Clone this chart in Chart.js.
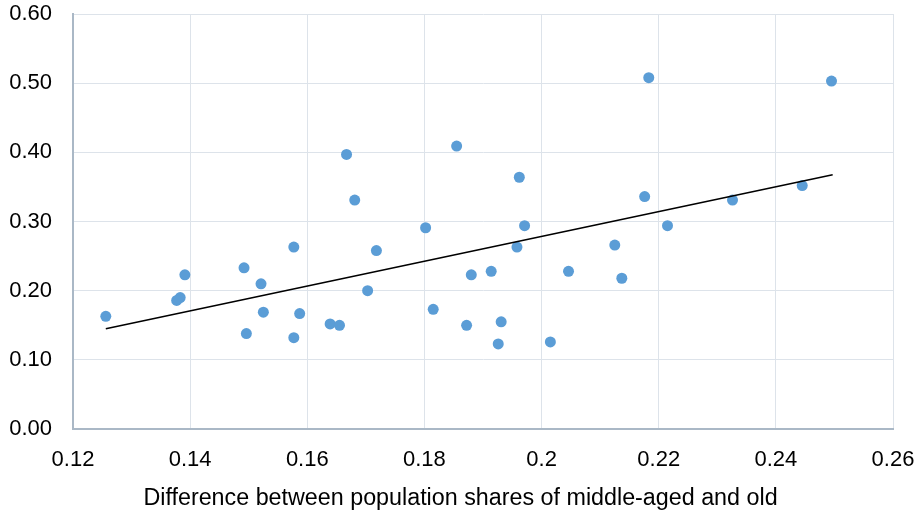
<!DOCTYPE html>
<html>
<head>
<meta charset="utf-8">
<title>Scatter</title>
<script src="https://cdn.jsdelivr.net/npm/chart.js@4.4.1/dist/chart.umd.min.js"></script>
<style>
  body { margin: 0; background: #fff; }
  #wrap { width: 921px; height: 515px; }
</style>
</head>
<body>
<div id="wrap"><canvas id="myChart" width="921" height="515"></canvas></div>
<script>
// Données
const xValues = [0.1256, 0.1391, 0.1383, 0.1377, 0.1492, 0.1521, 0.1577, 0.1525, 0.1587, 0.1496,
                 0.1577, 0.1667, 0.1681, 0.1718, 0.1703, 0.1639, 0.1655, 0.1802, 0.1815, 0.1855,
                 0.1880, 0.1914, 0.1872, 0.1931, 0.1926, 0.1962, 0.1971, 0.1958, 0.2015, 0.2046,
                 0.2125, 0.2137, 0.2176, 0.2183, 0.2215, 0.2326, 0.2445, 0.2495];
const yValues = [0.163, 0.223, 0.190, 0.186, 0.233, 0.210, 0.263, 0.169, 0.167, 0.138,
                 0.132, 0.397, 0.331, 0.258, 0.200, 0.152, 0.150, 0.291, 0.173, 0.409,
                 0.223, 0.228, 0.150, 0.155, 0.123, 0.364, 0.294, 0.263, 0.126, 0.228,
                 0.266, 0.218, 0.336, 0.508, 0.294, 0.331, 0.352, 0.503];

// droite de tendance (extrémités)
const trendX = [0.1256, 0.2497];
const trendY = [0.145, 0.3675];

const xTicks = [0.12, 0.14, 0.16, 0.18, 0.20, 0.22, 0.24, 0.26];
const xTickLabels = ['0.12', '0.14', '0.16', '0.18', '0.2', '0.22', '0.24', '0.26'];
const yTicks = [0, 0.1, 0.2, 0.3, 0.4, 0.5, 0.6];
const yTickLabels = ['0.00', '0.10', '0.20', '0.30', '0.40', '0.50', '0.60'];

const xTitle = 'Difference between population shares of middle-aged and old';

const fontFamily = '"Liberation Sans", Arial, sans-serif';
const gridColor = '#dde3ea';
const axisColor = '#aab8c6';

const ctx = document.getElementById('myChart').getContext('2d');
new Chart(ctx, {
    type: 'scatter',
    data: {
        datasets: [{
            type: 'line',
            label: 'Trend',
            data: trendX.map((x, i) => ({ x: x, y: trendY[i] })),
            borderColor: '#000000',
            borderWidth: 1.6,
            pointRadius: 0,
            fill: false
        }, {
            label: 'Data',
            data: xValues.map((x, i) => ({ x: x, y: yValues[i] })),
            backgroundColor: '#5b9dd6',
            borderWidth: 0,
            pointRadius: 5.5
        }]
    },
    options: {
        responsive: false,
        animation: false,
        layout: { padding: 0 },
        plugins: {
            legend: { display: false },
            tooltip: { enabled: false },
            // titre de l'axe X, centré sur toute la largeur
            title: {
                display: true,
                position: 'bottom',
                text: xTitle,
                color: '#000',
                font: { family: fontFamily, size: 23.3, weight: 'normal' },
                padding: { top: 6, bottom: 2 }
            }
        },
        scales: {
            x: {
                type: 'linear',
                min: 0.12,
                max: 0.26,
                afterBuildTicks: function(scale) {
                    scale.ticks = xTicks.map(v => ({ value: v }));
                },
                afterFit: function(scale) {
                    scale.height = 50;
                    scale.paddingLeft = 0;
                    scale.paddingRight = 28;
                },
                grid: { color: gridColor, lineWidth: 1, drawTicks: false },
                border: { color: axisColor, width: 2 },
                ticks: {
                    padding: 18,
                    color: '#000',
                    font: { family: fontFamily, size: 22 },
                    maxRotation: 0,
                    callback: function(value, index) {
                        return xTickLabels[index];
                    }
                }
            },
            y: {
                type: 'linear',
                min: 0,
                max: 0.6,
                afterBuildTicks: function(scale) {
                    scale.ticks = yTicks.map(v => ({ value: v }));
                },
                afterFit: function(scale) {
                    scale.width = 73;
                    scale.paddingTop = 14;
                    scale.paddingBottom = 0;
                },
                grid: { color: gridColor, lineWidth: 1, drawTicks: false },
                border: { color: axisColor, width: 2 },
                ticks: {
                    padding: 21,
                    color: '#000',
                    font: { family: fontFamily, size: 22 },
                    callback: function(value, index) {
                        return yTickLabels[index];
                    }
                }
            }
        }
    }
});
</script>
</body>
</html>
